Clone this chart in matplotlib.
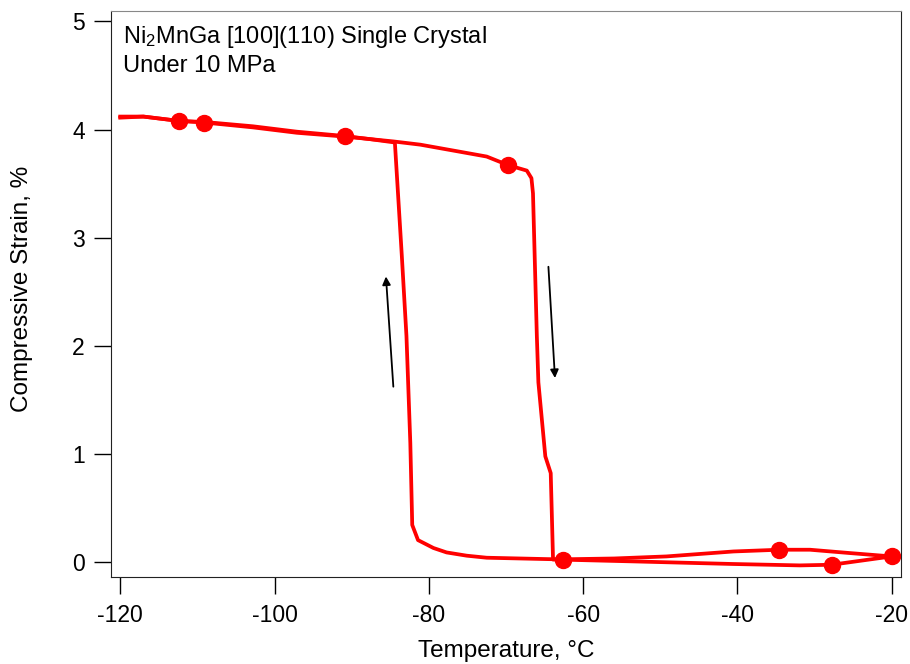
import matplotlib
matplotlib.use('Agg')
import matplotlib.pyplot as plt

plt.rcParams['font.family'] = ['Liberation Sans', 'DejaVu Sans']
plt.rcParams['mathtext.fontset'] = 'custom'
plt.rcParams['mathtext.rm'] = 'Liberation Sans'
plt.rcParams['mathtext.it'] = 'Liberation Sans:italic'
plt.rcParams['axes.unicode_minus'] = False

# cooling sweep: -20 C down to -120 C (martensite forms near -83 C)
cool_T = [-20.0, -25.4, -30.6, -34.6, -40.5, -49.2, -56.0, -63.0, -64.5,
          -72.5, -75.1, -77.7, -79.4, -81.4, -82.15, -82.4, -82.9, -83.5,
          -84.4, -87.5, -90.9, -97.1, -102.8, -109.1, -112.4, -117.0, -120.0]
cool_S = [0.049, 0.08, 0.111, 0.111, 0.095, 0.049, 0.03, 0.022, 0.024,
          0.037, 0.056, 0.086, 0.127, 0.20, 0.34, 1.10, 2.09, 2.83,
          3.88, 3.91, 3.94, 3.98, 4.03, 4.07, 4.08, 4.12, 4.12]

# heating sweep: -120 C back up to -20 C (reverse transformation near -65 C)
heat_T = [-120.0, -117.0, -112.4, -109.1, -102.8, -97.1, -90.9, -84.6, -81.1,
          -76.4, -72.5, -69.7, -67.3, -66.7, -66.5, -66.0, -65.8, -64.9,
          -64.2, -63.9, -62.6, -53.5, -40.6, -31.9, -27.8, -20.0]
heat_S = [4.11, 4.12, 4.08, 4.065, 4.02, 3.97, 3.935, 3.89, 3.86,
          3.80, 3.75, 3.67, 3.62, 3.55, 3.41, 2.09, 1.66, 0.975,
          0.82, 0.02, 0.019, 0.003, -0.021, -0.034, -0.028, 0.049]

# sampled markers on the loop
mark_T = [-112.4, -109.1, -90.9, -69.7, -62.6, -34.6, -27.8, -20.0]
mark_S = [4.08, 4.065, 3.94, 3.67, 0.019, 0.111, -0.028, 0.049]

fig = plt.figure(figsize=(9.1, 6.64), dpi=100)
ax = fig.add_axes([0.1216, 0.1306, 0.8685, 0.8533])

red = '#ff0000'
ax.plot(cool_T, cool_S, color=red, lw=2.7, solid_joinstyle='round')
ax.plot(heat_T, heat_S, color=red, lw=2.7, solid_joinstyle='round')
ax.plot(mark_T, mark_S, 'o', color=red, ms=11.5, mec=red)

# direction arrows
ax.annotate('', xy=(-85.56, 2.64), xytext=(-84.6, 1.62),
            arrowprops=dict(arrowstyle='-|>', color='k', lw=1.3,
                            mutation_scale=12, shrinkA=0, shrinkB=0))
ax.annotate('', xy=(-63.65, 1.70), xytext=(-64.5, 2.73),
            arrowprops=dict(arrowstyle='-|>', color='k', lw=1.3,
                            mutation_scale=12, shrinkA=0, shrinkB=0))

ax.text(0.0156, 0.943, r'Ni$_\mathrm{2}$MnGa [100](110) Single Crystal',
        transform=ax.transAxes, fontsize=17, va='baseline')
ax.text(0.0156, 0.8917, 'Under 10 MPa', transform=ax.transAxes,
        fontsize=17, va='baseline')

ax.set_xlim(-121.24, -18.8)
ax.set_ylim(-0.144, 5.10)
ax.set_xticks([-120, -100, -80, -60, -40, -20])
ax.set_yticks([0, 1, 2, 3, 4, 5])
ax.tick_params(direction='out', length=12.5, width=1, labelsize=16.5)
ax.tick_params(axis='x', pad=7)
ax.tick_params(axis='y', pad=6)

ax.set_xlabel('Temperature, °C', fontsize=17.5, va='baseline')
ax.xaxis.set_label_coords(0.5, -0.1415)
ax.set_ylabel('Compressive Strain, %', fontsize=17.5, ha='center', va='center')
ax.yaxis.set_label_coords(-0.1122, 0.509)

for s in ['left', 'bottom', 'right']:
    ax.spines[s].set_color('#222222')
ax.spines['top'].set_color('#888888')

fig.savefig('out.png', dpi=100)
